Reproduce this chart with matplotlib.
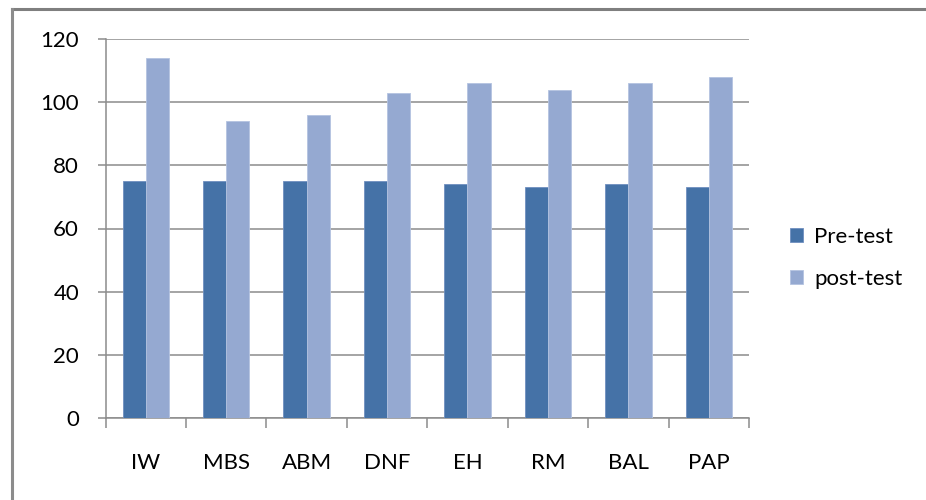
import matplotlib
matplotlib.use("Agg")
import matplotlib.pyplot as plt
import numpy as np
from matplotlib.lines import Line2D

categories = ["IW", "MBS", "ABM", "DNF", "EH", "RM", "BAL", "PAP"]
pre_test = [75, 75, 75, 75, 74, 73, 74, 73]
post_test = [114, 94, 96, 103, 106, 104, 106, 108]
series_names = ["Pre-test", "post-test"]
y_ticks = [0, 20, 40, 60, 80, 100, 120]

DARK = "#4572A7"
LIGHT = "#95A9D1"
GRID = "#8C8C8C"

plt.rcParams["font.family"] = ["Lato", "DejaVu Sans"]

W, H = 926, 500
fig = plt.figure(figsize=(W / 100, H / 100), dpi=100)
fig.patch.set_facecolor("white")

# outer chart frame (cut off at right and bottom in the original)
fig.add_artist(Line2D([11.5 / W, 1], [1 - 9 / H, 1 - 9 / H], color="#7F7F7F", lw=2.2))
fig.add_artist(Line2D([11.5 / W, 11.5 / W], [0, 1 - 9 / H], color="#8C8C8C", lw=2.2))

ax = fig.add_axes([105.5 / W, 1 - 418 / H, (749 - 105.5) / W, (418 - 39) / H])

x = np.arange(len(categories))
bw = 0.288
ax.bar(x - bw / 2, pre_test, bw, color=DARK, edgecolor="#6F8FBF", linewidth=0.6,
       label=series_names[0], zorder=3)
ax.bar(x + bw / 2, post_test, bw, color=LIGHT, edgecolor="#B4C3E0", linewidth=0.6,
       label=series_names[1], zorder=3)

ax.set_xlim(-0.5, len(categories) - 0.5)
ax.set_ylim(0, 120)
ax.set_yticks(y_ticks)
ax.set_yticklabels([str(v) for v in y_ticks])
ax.yaxis.grid(True, color=GRID, lw=1.1, zorder=0)
ax.set_axisbelow(True)

# category labels centred, tick marks at category boundaries
ax.set_xticks(x)
ax.set_xticklabels(categories)
ax.tick_params(axis="x", which="major", length=0, pad=25, labelsize=16, colors="#000000")
ax.set_xticks(np.arange(len(categories) + 1) - 0.5, minor=True)
ax.tick_params(axis="x", which="minor", length=7, width=1.1, color=GRID)
ax.tick_params(axis="y", length=6, width=1.1, color=GRID, pad=13, labelsize=16)

for s in ["top", "right"]:
    ax.spines[s].set_visible(False)
for s in ["left", "bottom"]:
    ax.spines[s].set_color(GRID)
    ax.spines[s].set_linewidth(1.1)

fig.legend(loc="center left", bbox_to_anchor=(770 / W, 1 - 258 / H), frameon=False,
           fontsize=16, handlelength=0.6, handleheight=0.6, handletextpad=0.5,
           labelspacing=1.0)

fig.savefig("out.png", dpi=100, facecolor="white")
